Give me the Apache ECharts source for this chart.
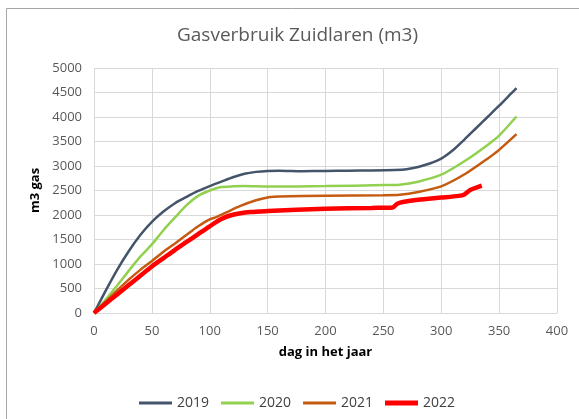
<!DOCTYPE html>
<html>
<head>
<meta charset="utf-8">
<script src="https://cdn.jsdelivr.net/npm/echarts@6/dist/echarts.min.js"></script>
<style>
  html, body { margin: 0; padding: 0; background: #fff; }
  #container { width: 579px; height: 419px; }
</style>
</head>
<body>
<div id="container"></div>
<script>
// [dag, m3] per jaar
const data2019 = [
  [0, 0], [10, 450], [20, 880], [30, 1260], [40, 1590], [50, 1860], [60, 2070],
  [70, 2240], [80, 2370], [90, 2490], [100, 2590], [110, 2680], [120, 2770],
  [130, 2840], [140, 2880], [150, 2900], [160, 2905], [180, 2895], [200, 2900],
  [220, 2905], [240, 2910], [260, 2920], [270, 2935], [280, 2980], [290, 3050],
  [300, 3150], [310, 3320], [320, 3540], [330, 3770], [340, 4000], [350, 4230],
  [360, 4470], [365, 4590]
];
const data2020 = [
  [0, 0], [10, 270], [20, 560], [30, 860], [40, 1150], [50, 1400], [60, 1690],
  [70, 1950], [80, 2200], [90, 2390], [100, 2500], [110, 2570], [120, 2585],
  [130, 2590], [150, 2580], [200, 2590], [250, 2610], [264, 2618], [280, 2680],
  [300, 2822], [322, 3128], [340, 3430], [350, 3620], [365, 4010]
];
const data2021 = [
  [0, 0], [10, 230], [20, 460], [30, 680], [40, 880], [50, 1060], [60, 1250],
  [70, 1420], [83, 1650], [90, 1770], [100, 1910], [106, 1960], [115, 2060],
  [126, 2180], [140, 2300], [152, 2367], [160, 2380], [200, 2395], [250, 2405],
  [264, 2414], [280, 2470], [300, 2584], [322, 2857], [340, 3150], [350, 3330],
  [365, 3650]
];
const data2022 = [
  [0, 0], [10, 190], [20, 380], [30, 570], [40, 760], [50, 950], [60, 1120],
  [70, 1290], [80, 1450], [90, 1610], [100, 1770], [110, 1920], [120, 2005],
  [135, 2060], [150, 2080], [200, 2128], [240, 2145], [258, 2155], [262, 2230],
  [268, 2270], [280, 2310], [300, 2355], [315, 2390], [320, 2420], [325, 2510],
  [335, 2600]
];
const years = ['2019', '2020', '2021', '2022'];
const colors = ['#44546A', '#92D050', '#C55A11', '#FF0000'];
const widths = [2.5, 2.5, 2.5, 4.5];
const seriesData = [data2019, data2020, data2021, data2022];

const font = '"Open Sans", sans-serif';
let myChart = echarts.init(document.getElementById('container'), null, { renderer: 'canvas' });

const legendText = {
  fontFamily: font,
  fontSize: 14,
  color: '#404040'
};

let option = {
  animation: false,
  color: colors,
  title: {
    text: 'Gasverbruik Zuidlaren (m3)',
    left: 172,
    top: 21,
    textStyle: {
      fontFamily: font,
      fontSize: 19,
      fontWeight: 'normal',
      color: '#595959'
    }
  },
  legend: [
    {
      left: 134,
      top: 391,
      icon: 'rect',
      itemWidth: 33,
      itemHeight: 3,
      itemGap: 12,
      data: years.slice(0, 3),
      textStyle: legendText
    },
    {
      left: 380,
      top: 391,
      icon: 'rect',
      itemWidth: 33,
      itemHeight: 5,
      data: years.slice(3),
      textStyle: legendText
    }
  ],
  grid: {
    left: 94,
    right: 22,
    top: 68,
    bottom: 106
  },
  xAxis: {
    type: 'value',
    min: 0,
    max: 400,
    interval: 50,
    name: 'dag in het jaar',
    nameLocation: 'middle',
    nameGap: 33,
    nameTextStyle: {
      fontFamily: font,
      fontSize: 13,
      fontWeight: 'bold',
      color: '#000'
    },
    axisLine: { show: true, lineStyle: { color: '#D9D9D9' } },
    axisTick: { show: false },
    splitLine: { show: true, lineStyle: { color: '#D9D9D9', width: 1 } },
    axisLabel: {
      fontFamily: font,
      fontSize: 13,
      color: '#595959',
      margin: 12
    }
  },
  yAxis: {
    type: 'value',
    min: 0,
    max: 5000,
    interval: 500,
    name: 'm3 gas',
    nameLocation: 'middle',
    nameGap: 40,
    nameTextStyle: {
      fontFamily: font,
      fontSize: 13,
      fontWeight: 'bold',
      color: '#000'
    },
    axisLine: { show: false },
    axisTick: { show: false },
    splitLine: { show: true, lineStyle: { color: '#D9D9D9', width: 1 } },
    axisLabel: {
      fontFamily: font,
      fontSize: 13,
      color: '#595959',
      margin: 12,
      formatter: v => String(v)
    }
  },
  graphic: [
    { type: 'line', shape: { x1: 6.5, y1: 8.5, x2: 579, y2: 8.5 }, style: { stroke: '#A6A6A6', lineWidth: 1 } },
    { type: 'line', shape: { x1: 6.5, y1: 8.5, x2: 6.5, y2: 419 }, style: { stroke: '#A6A6A6', lineWidth: 1 } }
  ],
  series: years.map((y, i) => ({
    name: y,
    type: 'line',
    data: seriesData[i],
    smooth: 0.25,
    symbol: 'none',
    z: 2 + i,
    lineStyle: { color: colors[i], width: widths[i] },
    itemStyle: { color: colors[i] }
  }))
};
myChart.setOption(option);
</script>
</body>
</html>
